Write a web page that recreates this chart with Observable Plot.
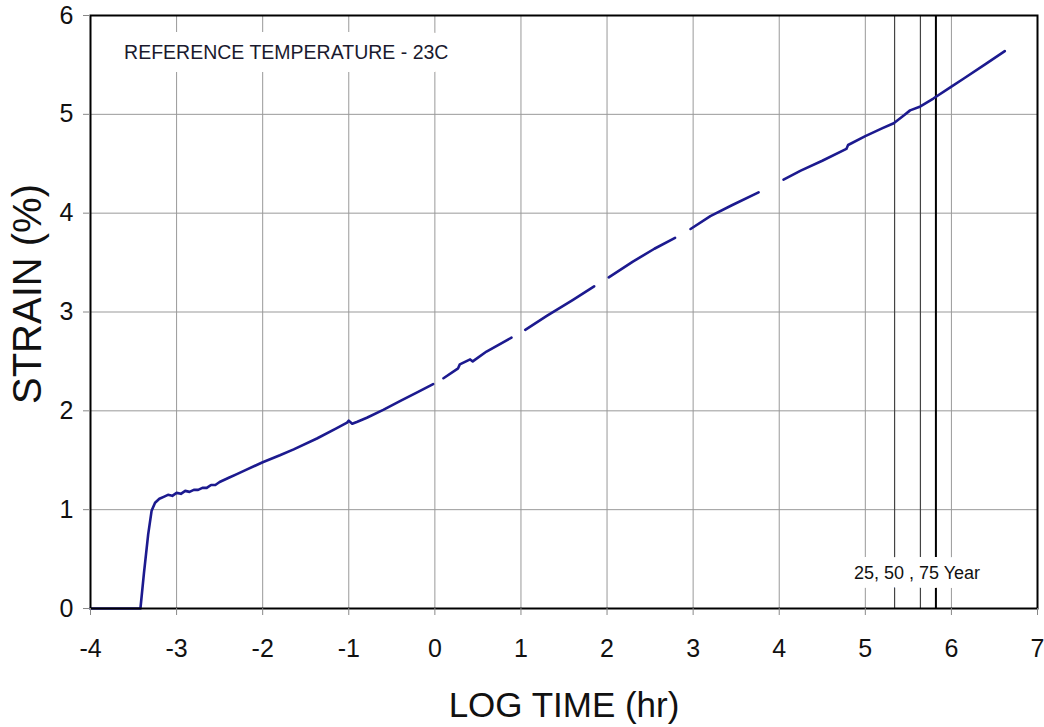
<!DOCTYPE html>
<html>
<head>
<meta charset="utf-8">
<script src="https://cdn.jsdelivr.net/npm/d3@7"></script>
<script src="https://cdn.jsdelivr.net/npm/@observablehq/plot@0.6"></script>
<style>
  html, body { margin: 0; padding: 0; background: #fff; }
  #chart { width: 1044px; height: 727px; }
</style>
</head>
<body>
<div id="chart"></div>
<script>
// Log time (hr) and strain (%); null marks a gap in the trace
const logTime = [
  -4.00, -3.42, -3.38, -3.33, -3.29, -3.25, -3.20, -3.15, -3.10, -3.05, -3.00, -2.95,
  -2.90, -2.85, -2.80, -2.75, -2.70, -2.65, -2.60, -2.55, -2.50, -2.40, -2.30, -2.20,
  -2.00, -1.80, -1.64, -1.37, -1.15, -1.02, -1.00, -0.96, -0.90, -0.79, -0.60, -0.40,
  -0.20, -0.02, 0.04,
  0.10, 0.27, 0.29, 0.41, 0.44, 0.60, 0.89, 0.97,
  1.05, 1.30, 1.60, 1.85, 1.94,
  2.02, 2.30, 2.55, 2.79, 2.88,
  2.97, 3.20, 3.45, 3.76, 3.90,
  4.05, 4.25, 4.50, 4.78, 4.80, 5.00, 5.20, 5.33, 5.45, 5.52, 5.64, 5.79, 6.00, 6.14,
  6.40, 6.62
];
const strain = [
  0, 0, 0.35, 0.75, 0.99, 1.07, 1.11, 1.13, 1.15, 1.14, 1.17, 1.16,
  1.19, 1.18, 1.20, 1.20, 1.22, 1.22, 1.25, 1.25, 1.28, 1.32, 1.36, 1.40,
  1.48, 1.55, 1.61, 1.72, 1.82, 1.88, 1.90, 1.87, 1.89, 1.93, 2.01, 2.10,
  2.19, 2.27, null,
  2.33, 2.43, 2.47, 2.52, 2.50, 2.60, 2.74, null,
  2.82, 2.96, 3.12, 3.26, null,
  3.35, 3.51, 3.64, 3.75, null,
  3.84, 3.97, 4.08, 4.21, null,
  4.34, 4.43, 4.53, 4.65, 4.69, 4.78, 4.86, 4.91, 4.99, 5.04, 5.08, 5.16, 5.28, 5.36,
  5.51, 5.64
];
// 25, 50 and 75 years expressed as log10(hours)
const designLife = [5.34, 5.64, 5.82];
const designWidth = [1.2, 1.2, 2];
const designColor = ["#444", "#444", "#000"];

const xTicks = [-4, -3, -2, -1, 0, 1, 2, 3, 4, 5, 6, 7];
const yTicks = [0, 1, 2, 3, 4, 5, 6];

const titleText = "REFERENCE TEMPERATURE - 23C";
const yearText = "25, 50 , 75 Year";
const xLabel = "LOG TIME (hr)";
const yLabel = "STRAIN (%)";

const series = logTime.map((t, i) => ({t, s: strain[i]}));
const lifeLines = designLife.map((x, i) => ({x, w: designWidth[i], c: designColor[i]}));

const chart = Plot.plot({
  width: 1044,
  height: 727,
  marginLeft: 90,
  marginRight: 7,
  marginTop: 15,
  marginBottom: 119,
  style: {fontFamily: "'Liberation Sans', Arial, sans-serif", background: "#fff", overflow: "visible"},
  x: {domain: [-4, 7]},
  y: {domain: [0, 6]},
  marks: [
    Plot.gridX(xTicks, {stroke: "#999", strokeOpacity: 1, strokeWidth: 1}),
    Plot.gridY(yTicks, {stroke: "#999", strokeOpacity: 1, strokeWidth: 1}),
    Plot.ruleX(lifeLines, {x: "x", stroke: "c", strokeWidth: "w"}),
    Plot.line(series, {x: "t", y: "s", stroke: "#1c1a8f", strokeWidth: 2.6, curve: "linear"}),
    Plot.text([titleText], {x: -3.61, y: 5.62, textAnchor: "start", fontSize: 19.5, fill: "#1a1a2e",
      stroke: "white", strokeWidth: 26, strokeLinejoin: "miter"}),
    Plot.text([yearText], {x: 5.60, y: 0.36, fontSize: 18, fill: "#111",
      stroke: "white", strokeWidth: 18}),
    Plot.frame({stroke: "#000", strokeWidth: 2}),
    Plot.axisX(xTicks, {tickSize: 7, tickPadding: 24, stroke: "#888", fill: "#111", fontSize: 25, label: null, tickFormat: d => d < 0 ? "-" + Math.abs(d) : String(d)}),
    Plot.axisY(yTicks, {tickSize: 7, tickPadding: 10, stroke: "#888", fill: "#111", fontSize: 25, label: null, tickFormat: d => String(d)}),
    Plot.text([xLabel], {frameAnchor: "bottom", dy: 108, fontSize: 35, fill: "#111"}),
    Plot.text([yLabel], {frameAnchor: "left", textAnchor: "middle", dx: -62, dy: -18, rotate: -90, fontSize: 40, fill: "#111"})
  ]
});
document.getElementById("chart").appendChild(chart);
</script>
</body>
</html>
